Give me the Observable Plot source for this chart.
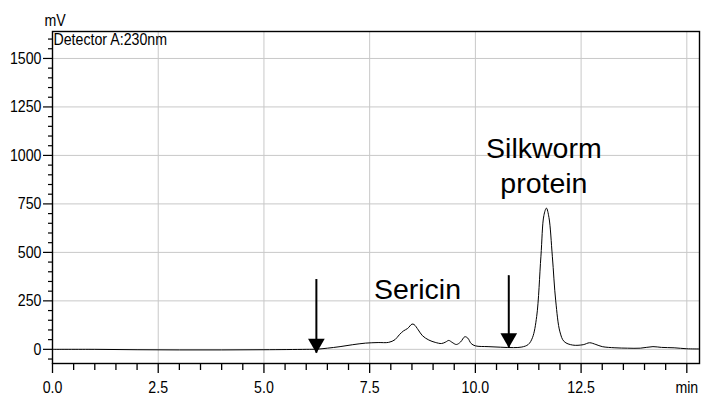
<!DOCTYPE html>
<html>
<head>
<meta charset="utf-8">
<script src="https://cdn.jsdelivr.net/npm/d3@7"></script>
<script src="https://cdn.jsdelivr.net/npm/@observablehq/plot@0.6"></script>
<style>
  html, body { margin: 0; padding: 0; background: #fff; }
  #chart svg { display: block; }
</style>
</head>
<body>
<div id="chart"></div>
<script>
// Chromatogram trace (retention time in min, signal in mV)
const times = [0, 1, 2, 3, 4, 5, 6, 6.25, 6.5, 6.8, 7.1, 7.4, 7.7, 7.95, 8.1, 8.2, 8.3, 8.4, 8.5, 8.55, 8.65, 8.75, 8.9, 9.05, 9.2, 9.3, 9.37, 9.45, 9.55, 9.65, 9.75, 9.82, 9.9, 10.0, 10.3, 10.6, 10.9, 11.1, 11.25, 11.35, 11.45, 11.55, 11.62, 11.68, 11.74, 11.82, 11.9, 12.0, 12.1, 12.3, 12.55, 12.7, 12.85, 13.0, 13.3, 13.6, 13.9, 14.2, 14.4, 14.7, 15.0, 15.3];
const signal = [0, 0, -2, -3, -3, -2, 0, 1, 6, 14, 24, 32, 35, 36, 50, 75, 95, 108, 130, 128, 100, 70, 48, 36, 30, 38, 46, 36, 25, 38, 65, 58, 30, 18, 14, 11, 9, 12, 25, 60, 170, 480, 690, 728, 680, 480, 250, 90, 40, 22, 24, 34, 25, 14, 8, 6, 6, 14, 10, 8, 3, 2];

// Axis ticks
const xMajor = [0, 2.5, 5, 7.5, 10, 12.5, 15];
const xMinor = [0.5, 1, 1.5, 2, 3, 3.5, 4, 4.5, 5.5, 6, 6.5, 7, 8, 8.5, 9, 9.5, 10.5, 11, 11.5, 12, 13, 13.5, 14, 14.5];
const yMajor = [0, 250, 500, 750, 1000, 1250, 1500];
const yMinor = [-50, 50, 100, 150, 200, 300, 350, 400, 450, 550, 600, 650, 700, 800, 850, 900, 950, 1050, 1100, 1150, 1200, 1300, 1350, 1400, 1450, 1550, 1600];

// Arrows
const arrowX = [6.24, 10.79];
const arrowTop = [360, 380];
const arrowTip = [-20, 8];

// Annotations
const labelText = ["Sericin", "Silkworm", "protein"];
const labelX = [8.63, 11.62, 11.62];
const labelY = [261, 989, 808];

const trace = times.map((t, i) => ({t, v: signal[i]}));
const arrows = arrowX.map((x, i) => ({x, top: arrowTop[i], tip: arrowTip[i]}));
const labels = labelText.map((s, i) => ({s, x: labelX[i], y: labelY[i]}));

const sans = "'Liberation Sans', Arial, Helvetica, sans-serif";

const chart = Plot.plot({
  width: 703,
  height: 399,
  marginLeft: 52,
  marginRight: 4,
  marginTop: 31,
  marginBottom: 36,
  style: {fontFamily: sans, fontSize: "16.5px", color: "#000", background: "#fff"},
  x: {domain: [0, 15.3]},
  y: {domain: [-73, 1639]},
  marks: [
    Plot.gridX(xMajor, {stroke: "#c8c8c8", strokeOpacity: 1, strokeWidth: 1}),
    Plot.gridY(yMajor, {stroke: "#c8c8c8", strokeOpacity: 1, strokeWidth: 1}),
    Plot.axisX(xMajor, {tickSize: 10, tickPadding: 8, stroke: "#000", strokeWidth: 1.3,
      tickFormat: d => d === 15 ? "min" : d.toFixed(1), label: null, fontSize: 16.5}),
    Plot.axisX(xMinor, {tickSize: 7, text: null, label: null, stroke: "#000", strokeWidth: 1.3}),
    Plot.axisY(yMajor, {tickSize: 9, tickPadding: 2, stroke: "#000", strokeWidth: 1.2,
      tickFormat: d => String(d), label: null, fontSize: 16.5}),
    Plot.axisY(yMinor, {tickSize: 4, text: null, label: null, stroke: "#000", strokeWidth: 1.2}),
    Plot.line(trace, {x: "t", y: "v", curve: "catmull-rom", stroke: "#000", strokeWidth: 1}),
    Plot.ruleX(arrows, {x: "x", y1: "top", y2: "tip", stroke: "#000", strokeWidth: 2}),
    Plot.dot(arrows, {x: "x", y: "tip", symbol: "triangle", rotate: 180, r: 6.2, fill: "#000", stroke: "none", dy: -9.6}),
    Plot.text(labels, {x: "x", y: "y", text: "s", lineAnchor: "bottom", textAnchor: "middle",
      fontSize: 28.5, fill: "#000"}),
    Plot.text(["Detector A:230nm"], {frameAnchor: "top-left", text: d => d, dx: 1, dy: 2, lineAnchor: "top", textAnchor: "start", fontSize: 16.5, fill: "#000"}),
    Plot.text(["mV"], {frameAnchor: "top-left", text: d => d, dx: -8, dy: -6, lineAnchor: "bottom", textAnchor: "start", fontSize: 16.5, fill: "#000"}),
    Plot.frame({stroke: "#000", strokeWidth: 1.4})
  ]
});

// Condense the small (instrument-style) texts horizontally around their anchor points
chart.querySelectorAll("text").forEach(el => {
  if (el.closest('[font-size="28.5"]')) return;
  const tr = el.getAttribute("transform") || "";
  el.setAttribute("transform", (tr + " scale(0.86,1)").trim());
});

document.getElementById("chart").appendChild(chart);
</script>
</body>
</html>
